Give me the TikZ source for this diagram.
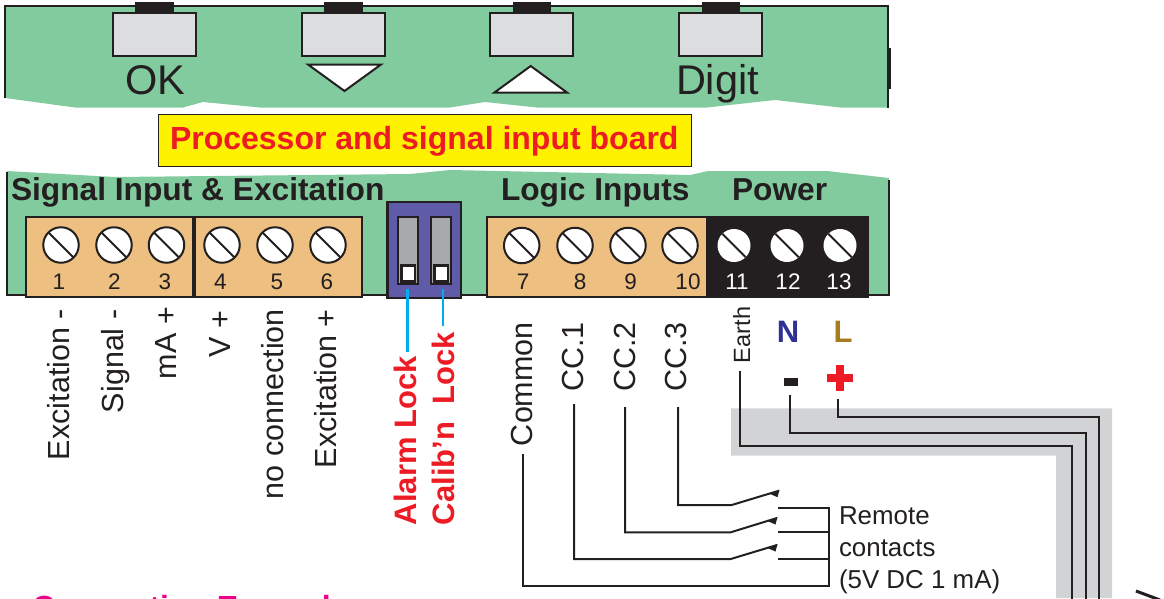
\documentclass[tikz,border=0pt]{standalone}
\usepackage{fontspec}
\setmainfont{Liberation Sans}
\definecolor{boardgreen}{HTML}{82CB9E}
\definecolor{ink}{HTML}{231F20}
\definecolor{btngray}{HTML}{DCDDDE}
\definecolor{termorange}{HTML}{EDBF80}
\definecolor{swpurple}{HTML}{5F5BA8}
\definecolor{swgray}{HTML}{A7A9AC}
\definecolor{bandgray}{HTML}{D1D3D4}
\definecolor{lblue}{HTML}{00AEEF}
\definecolor{lred}{HTML}{ED1C24}
\definecolor{lyellow}{HTML}{FFF200}
\definecolor{nblue}{HTML}{2E3192}
\definecolor{lbrown}{HTML}{A67C20}
\definecolor{lmagenta}{HTML}{EC008C}
\newcommand{\fsz}[1]{\fontsize{#1}{#1}\selectfont}
\tikzset{
  txt/.style={inner sep=0pt,outer sep=0pt,text=ink,anchor=base west},
  ctxt/.style={inner sep=0pt,outer sep=0pt,text=ink,anchor=base},
  vtxt/.style={txt,rotate=90},
  head/.style={txt,font=\fsz{31.7}\bfseries},
  lbl/.style={vtxt,font=\fsz{30.5}},
  locklbl/.style={inner sep=0pt,outer sep=0pt,anchor=base west,rotate=90,text=lred,font=\fsz{31}\bfseries},
  keybtn/.style={draw=ink,line width=2pt,fill=btngray},
  keycap/.style={fill=ink},
  termbox/.style={draw=ink,line width=2pt,fill=termorange},
  screw/.style={circle,draw=ink,line width=2pt,fill=white,minimum size=35.5pt,inner sep=0pt,outer sep=0pt},
  wscrew/.style={circle,fill=white,minimum size=33pt,inner sep=0pt,outer sep=0pt},
  slot/.style={draw=ink,line width=2pt},
  num/.style={ctxt,font=\fsz{22.5}},
  wnum/.style={num,text=white},
  wire/.style={draw=ink,line width=2pt},
  tap/.style={draw=lblue,line width=2.5pt},
}
\begin{document}
\begin{tikzpicture}[x=1pt,y=-1pt]
\useasboundingbox (0,0) rectangle (1164,598);
\clip (0,0) rectangle (1164,598);

% Upper board
\fill[boardgreen] (5,6) -- (888,6) -- (888,107.5) -- (840,107.5) -- (775,100) -- (707,107.5) -- (537,107.5) -- (485,102) -- (450,107.5) -- (260,107.5) -- (203,102) -- (183,107.5) -- (75,107.5) -- (5,98) -- cycle;
\draw[wire] (5,98) -- (5,6) -- (888,6) -- (888,107.5);
\fill[ink] (887,48) rectangle (891,89);

\foreach \k/\x in {a/112.5,b/301.5,c/490,d/679}{
  \fill[keycap] (\x+22.5,2) rectangle (\x+61,13);
  \node[keybtn,rectangle,inner sep=0pt,minimum width=83pt,minimum height=43pt,anchor=north west,outer sep=0pt] (key\k) at (\x,13) {};
}
\node[txt,font=\fsz{41.5}] (okt) at (125,94) {OK};
\node[txt,font=\fsz{41.5}] (digt) at (676,94) {Digit};
\draw[line width=2pt,draw=ink,fill=white,line join=miter] (308,64.5) -- (381,64.5) -- (344.5,91) -- cycle;
\draw[line width=2pt,draw=ink,fill=white,line join=miter] (494.5,92.5) -- (567,92.5) -- (530.7,66) -- cycle;

% Yellow title
\node[draw=ink,line width=1pt,fill=lyellow,minimum width=532.5pt,minimum height=51.5pt,inner sep=0pt,outer sep=0pt,anchor=north west] (title) at (158.5,114.5) {};
\node[inner sep=0pt,outer sep=0pt,anchor=base west,text=lred,font=\fsz{32}\bfseries] (titlet) at (170,149) {Processor and signal input board};

% Lower board
\fill[boardgreen] (7,171) -- (115,177) -- (410,174) -- (450,170) -- (690,175) -- (708,171) -- (827,171) -- (889,178) -- (889,295) -- (7,295) -- cycle;
\draw[wire] (7,172) -- (7,295) -- (889,295) -- (889,180);

\node[head] (h1) at (11,200) {Signal Input \& Excitation};
\node[head] (h2) at (501,200) {Logic Inputs};
\node[head] (h3) at (732,200) {Power};

% Terminal blocks
\draw[termbox] (26,217) rectangle (192.7,297);
\draw[termbox] (195,217) rectangle (361.7,297);
\draw[termbox] (487.3,217) rectangle (706.7,297);
\fill[ink] (708,216) rectangle (869,298);

\foreach \n/\x in {1/61,2/114,3/166.5,4/222,5/275,6/328}{
  \node[screw] (s\n) at (\x,245) {};
  \draw[slot] (s\n.135) -- (s\n.-45);
}
\foreach \n/\x in {7/521.7,8/575,9/628,10/680}{
  \node[screw] (s\n) at (\x,245.5) {};
  \draw[slot] (s\n.135) -- (s\n.-45);
}
\foreach \n/\x in {11/734,12/787,13/840}{
  \node[wscrew] (s\n) at (\x,245.5) {};
  \draw[slot] (s\n.135) -- (s\n.-45);
}
\foreach \n/\x in {1/59,2/114.5,3/165,4/220.5,5/277,6/327,7/523,8/580,9/630.5,10/688}{
  \node[num] (n\n) at (\x,289) {\n};
}
\foreach \n/\x in {11/737,12/788,13/839}{
  \node[wnum] (n\n) at (\x,289) {\n};
}

% Gray cable band
\fill[bandgray] (731,408.3) -- (1112,408.3) -- (1112,598) -- (1056,598) -- (1056,455.7) -- (731,455.7) -- cycle;

% DIP switches
\draw[draw=ink,line width=2.5pt,fill=swpurple] (387.5,202) rectangle (461,298);
\foreach \k/\x in {a/397.5,b/431}{
  \draw[draw=ink,line width=2pt,fill=swgray] (\x,217) rectangle (\x+20,284);
  \fill[ink] (\x+2,264) rectangle (\x+18,284);
  \fill[white] (\x+5,267) rectangle (\x+16,280);
}
\coordinate (swa) at (407.3,289);
\coordinate (swb) at (443,289);

% Labels under the terminals
\node[lbl] (lab1) at (69.5,460) {Excitation -};
\node[lbl] (lab2) at (123,413) {Signal -};
\node[lbl] (lab3) at (176.7,379) {mA +};
\node[lbl] (lab4) at (230,357) {V +};
\node[lbl] (lab5) at (283,499) {no connection};
\node[lbl] (lab6) at (336.7,468) {Excitation +};
\node[locklbl] (alarm) at (416,525) {Alarm Lock};
\node[locklbl] (calib) at (454,525) {Calib’n\ \ Lock};
\coordinate (alarmEnd) at (407.3,352);
\coordinate (calibEnd) at (443,325.7);
\draw[tap] (swa) -- (alarmEnd);
\draw[tap] (swb) -- (calibEnd);

\node[lbl] (com) at (532.7,446) {Common};
\node[lbl] (cc1) at (583,391.7) {CC.1};
\node[lbl] (cc2) at (635,391.7) {CC.2};
\node[lbl] (cc3) at (686,391.7) {CC.3};

% Contact wiring
\coordinate (comTop) at (523,454);
\coordinate (ccaTop) at (574,404);
\coordinate (ccbTop) at (625,407);
\coordinate (cccTop) at (678,407);
\coordinate (ra) at (778,559);
\coordinate (rb) at (778,532.3);
\coordinate (rc) at (778,507.7);
\coordinate (bus) at (829,507.7);
\coordinate (busEnd) at (829,585.7);
\coordinate (hinA) at (730.7,559);
\coordinate (hinB) at (730.7,532.3);
\coordinate (hinC) at (731.7,505);
\coordinate (tipA) at (777,545);
\coordinate (tipB) at (777,518);
\coordinate (tipC) at (779,490.7);
\draw[wire] (comTop) |- (busEnd) -- (bus) -- (rc);
\draw[wire] (ra) -- (ra-|bus);
\draw[wire] (rb) -- (rb-|bus);
\draw[wire] (ccaTop) |- (hinA) -- (tipA);
\draw[wire] (ccbTop) |- (hinB) -- (tipB);
\draw[wire] (cccTop) |- (hinC) -- (tipC);
\foreach \t in {tipA,tipB,tipC}{
  \fill[ink] (\t) ++(0.5,-1) -- ++(-2,7.5) -- ++(-8,-3.5) -- cycle;
}
\node[txt,font=\fsz{25.9}] (rem1) at (839,524) {Remote};
\node[txt,font=\fsz{25.9}] (rem2) at (839,556.7) {contacts};
\node[txt,font=\fsz{25.9}] (rem3) at (839,588) {(5V DC 1 mA)};

% Power wiring
\node[vtxt,font=\fsz{23.5}] (earth) at (750,363) {Earth};
\node[ctxt,text=nblue,font=\fsz{31}\bfseries] (nl) at (788,342.7) {N};
\node[ctxt,text=lbrown,font=\fsz{31}\bfseries] (ll) at (843,342.7) {L};
\fill[ink] (784,378.3) rectangle (798,386);
\fill[lred] (827,374) rectangle (853,381.5);
\fill[lred] (836.3,365) rectangle (843.8,391);
\coordinate (eTop) at (740,371);
\coordinate (nTop) at (790.3,395);
\coordinate (lTop) at (838,399.3);
\coordinate (eCor) at (1072.3,446);
\coordinate (nCor) at (1086,432.7);
\coordinate (lCor) at (1099.3,417.3);
\coordinate (eEnd) at (1072.3,600);
\coordinate (nEnd) at (1086,600);
\coordinate (lEnd) at (1099.3,600);
\draw[wire] (eTop) |- (eCor) -- (eEnd);
\draw[wire] (nTop) |- (nCor) -- (nEnd);
\draw[wire] (lTop) |- (lCor) -- (lEnd);

% Cropped fragments at the lower edge
\coordinate (frA) at (1136,591);
\coordinate (frB) at (1160,600);
\draw[draw=ink,line width=3pt] (frA) -- (frB);
\node[inner sep=0pt,outer sep=0pt,anchor=base west,text=lmagenta,font=\fsz{32}\bfseries] (conn) at (32,618) {Connection Examples};
\end{tikzpicture}
\end{document}
